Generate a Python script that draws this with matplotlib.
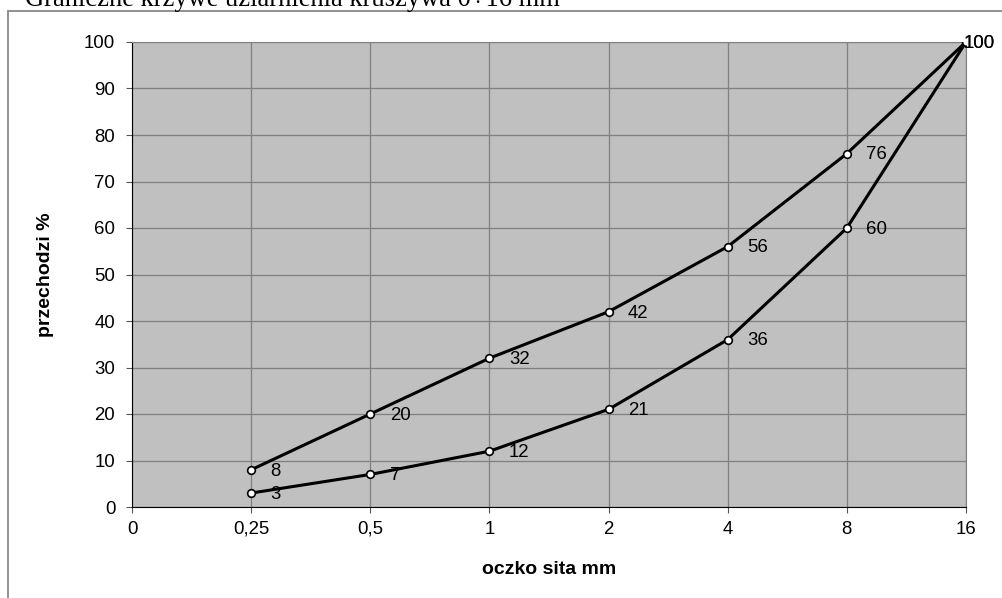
import matplotlib.pyplot as plt
from matplotlib.patches import Rectangle

plt.rcParams['font.family'] = ['Liberation Sans', 'DejaVu Sans']

# sieve sizes (categorical positions on the x axis)
sieve_labels = ["0", "0,25", "0,5", "1", "2", "4", "8", "16"]
sieve_pos = [1, 2, 3, 4, 5, 6, 7]  # points start at "0,25"

upper = [8, 20, 32, 42, 56, 76, 100]
lower = [3, 7, 12, 21, 36, 60, 100]

fig = plt.figure(figsize=(10.03, 5.98), dpi=100)
ax = fig.add_axes([132 / 1003, 1 - 507 / 598, (966 - 132) / 1003, (507 - 42) / 598])

# outer chart frame (clipped by the image edges)
fig.patches.append(Rectangle((8 / 1003, -0.1), 1.2, (598 - 11) / 598 + 0.1,
                             transform=fig.transFigure, fill=False,
                             edgecolor="#888888", linewidth=1.3))

# title, partly cut off at the top like the original
fig.text(25 / 1003, 1 - 6.5 / 598, "Graniczne krzywe uziarnienia kruszywa 0÷16 mm",
         family="Liberation Serif", fontsize=19.1, va="baseline", ha="left")

ax.set_facecolor("#c0c0c0")
for series in (upper, lower):
    ax.plot(sieve_pos, series, color="black", linewidth=2.2, marker="o",
            markersize=5.5, markerfacecolor="white", markeredgecolor="black",
            markeredgewidth=1.2, zorder=3)
    for x, y in zip(sieve_pos, series):
        # the last label is pulled back inside the chart, as Excel does
        dx = 14 if x < sieve_pos[-1] else -1.5
        ax.annotate(str(y), (x, y), xytext=(dx, -1), textcoords="offset points",
                    ha="left", va="center", fontsize=13.4, zorder=4)

ax.set_xlim(0, 7)
ax.set_ylim(0, 100)
ax.set_xticks(range(len(sieve_labels)))
ax.set_xticklabels(sieve_labels)
ax.set_yticks(range(0, 101, 10))
ax.tick_params(labelsize=13.4, direction="out", length=4, color="#555555")
ax.tick_params(axis="x", pad=6)
ax.tick_params(axis="y", pad=8)
ax.grid(True, color="#808080", linewidth=0.9)
ax.set_axisbelow(True)

ax.spines["left"].set_color("black")
ax.spines["bottom"].set_color("black")
ax.spines["top"].set_color("#808080")
ax.spines["right"].set_color("#808080")

ax.set_xlabel("oczko sita mm", fontweight="bold", fontsize=14)
ax.set_ylabel("przechodzi %", fontweight="bold", fontsize=14)
ax.xaxis.set_label_coords(549 / 1003, 1 - 570 / 598, transform=fig.transFigure)
ax.yaxis.set_label_coords(45 / 1003, 1 - 275 / 598, transform=fig.transFigure)
ax.xaxis.label.set_va("center")
ax.yaxis.label.set_va("center")

fig.savefig("out.png", dpi=100)
